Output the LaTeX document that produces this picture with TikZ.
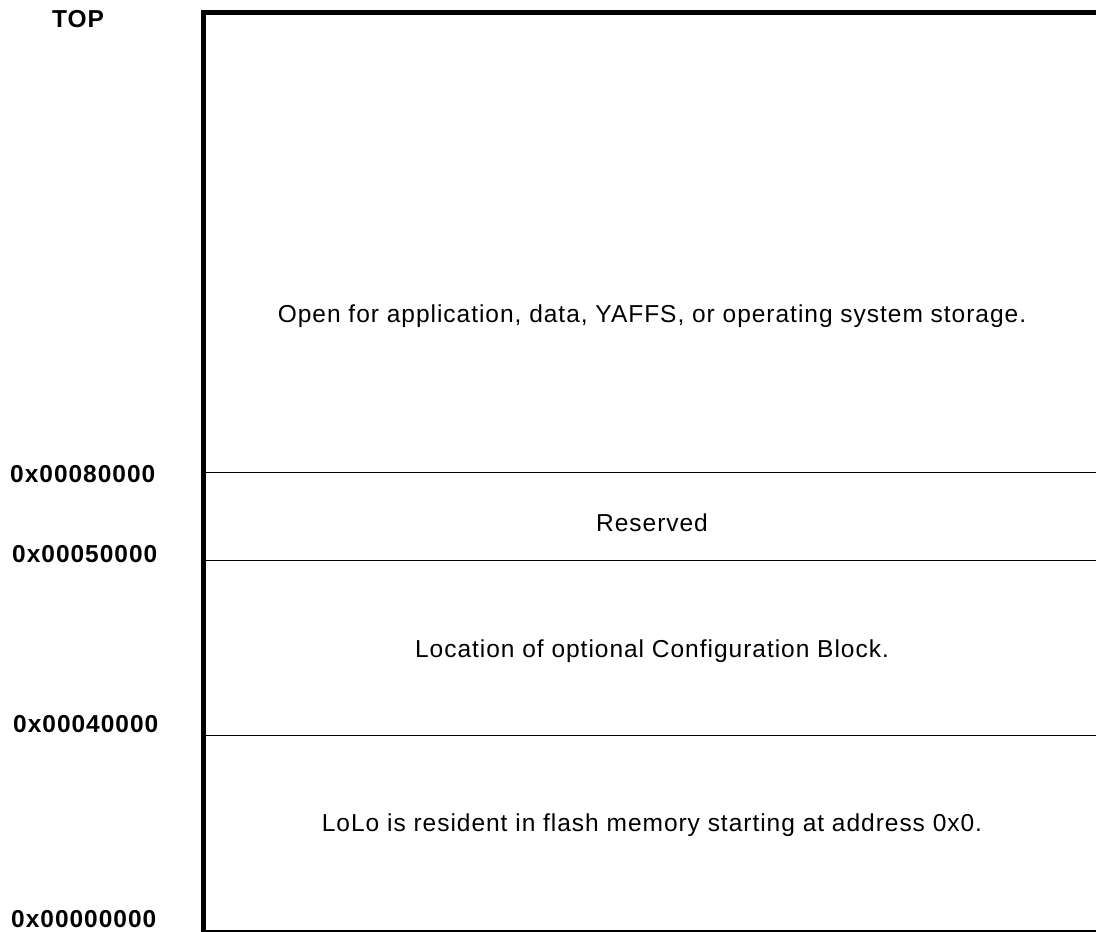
\documentclass[tikz,border=0pt]{standalone}
\usepackage{fontspec}
\setmainfont{Liberation Sans}
\begin{document}
\begin{tikzpicture}[x=1pt,y=-1pt,
  addr/.style={font=\fontsize{24.5}{28}\selectfont\bfseries\addfontfeature{LetterSpace=4},
               anchor=base west, inner sep=0pt},
  region/.style={font=\fontsize{24.5}{28}\selectfont\addfontfeature{LetterSpace=4},
               anchor=base, inner sep=0pt},
  frame/.style={line width=5.5pt},
  divider/.style={line width=1pt}]
\useasboundingbox (0,0) rectangle (1096,932);
\clip (0,0) rectangle (1096,932);

% memory map outline
\draw[frame] (203.5,12.5) rectangle (1099,932.5);

% region boundaries
\coordinate (b8l) at (203.5,472.7); \coordinate (b8r) at (1099,472.7);
\coordinate (b5l) at (203.5,560);   \coordinate (b5r) at (1099,560);
\coordinate (b4l) at (203.5,735);   \coordinate (b4r) at (1099,735);
\draw[divider] (b8l) -- (b8r);
\draw[divider] (b5l) -- (b5r);
\draw[divider] (b4l) -- (b4r);

% address labels
\node[addr] (top) at (52,27) {TOP};
\node[addr] (a80) at (10,482) {0x00080000};
\node[addr] (a50) at (12,562) {0x00050000};
\node[addr] (a40) at (13,732) {0x00040000};
\node[addr] (a00) at (11,927) {0x00000000};

% region descriptions
\node[region] (open) at (652,322) {Open for application, data, YAFFS, or operating system storage.};
\node[region] (rsv)  at (652,531) {Reserved};
\node[region] (cfg)  at (652,657) {Location of optional Configuration Block.};
\node[region] (lolo) at (652,831) {LoLo is resident in flash memory starting at address 0x0.};
\end{tikzpicture}
\end{document}
